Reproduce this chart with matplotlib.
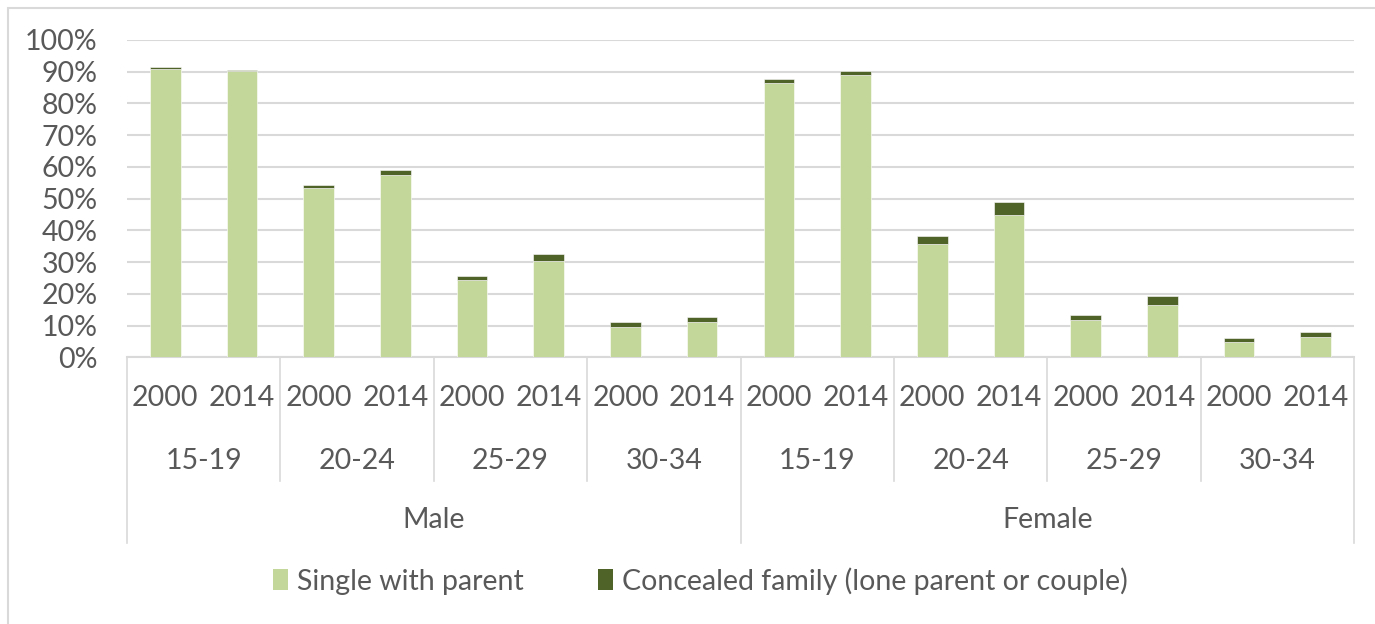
import matplotlib
matplotlib.use("Agg")
import matplotlib.pyplot as plt
from matplotlib.lines import Line2D
from matplotlib.patches import Rectangle, Patch
from matplotlib.ticker import PercentFormatter

plt.rcParams['font.family'] = ['Lato', 'DejaVu Sans']

sexes = ['Male', 'Female']
ages = ['15-19', '20-24', '25-29', '30-34']
years = ['2000', '2014']

# shares in percent, ordered age group by age group, 2000 then 2014
single_male = [91.0, 90.2, 53.4, 57.3, 24.3, 30.3, 9.7, 11.2]
concealed_male = [0.4, 0.4, 0.8, 1.7, 1.3, 2.2, 1.3, 1.4]
single_female = [86.5, 89.0, 35.6, 44.9, 11.7, 16.6, 4.8, 6.5]
concealed_female = [1.3, 1.2, 2.6, 4.1, 1.6, 2.7, 1.3, 1.6]

light = '#C4D79B'
dark = '#4F6228'
grid = '#D9D9D9'
txt = '#595959'
fs = 20.5

single = single_male + single_female
concealed = concealed_male + concealed_female
n = len(single)
xs = [i + 0.5 for i in range(n)]

W, H = 1375, 624
fig = plt.figure(figsize=(W / 100, H / 100), dpi=100)
ax = fig.add_axes([127 / W, 1 - 357.3 / H, (1354 - 127) / W, (357.3 - 40) / H])

ax.bar(xs, single, width=0.4, color=light, edgecolor='white', linewidth=0.4,
       label='Single with parent', zorder=3)
ax.bar(xs, concealed, width=0.4, bottom=single, color=dark, edgecolor='white',
       linewidth=0.4, label='Concealed family (lone parent or couple)', zorder=3)

ax.set_xlim(0, n)
ax.set_ylim(0, 100)
ax.set_yticks(range(0, 101, 10))
ax.yaxis.set_major_formatter(PercentFormatter(decimals=0))
ax.grid(axis='y', color=grid, linewidth=1.5, zorder=0)
ax.tick_params(axis='y', length=0, pad=21, labelsize=fs, labelcolor=txt)
ax.set_xticks([])
for s in ['top', 'right', 'left']:
    ax.spines[s].set_visible(False)
ax.spines['bottom'].set_color(grid)
ax.spines['bottom'].set_linewidth(1.5)

# three-level category axis drawn below the plot
tr = ax.get_xaxis_transform()
px = 1 / (357.3 - 40)
for i, x in enumerate(xs):
    ax.text(x, -(398 - 357.3) * px, years[i % 2], transform=tr, ha='center',
            va='center', fontsize=fs, color=txt)
for j in range(len(sexes) * len(ages)):
    ax.text(2 * j + 1, -(461 - 357.3) * px, ages[j % len(ages)], transform=tr,
            ha='center', va='center', fontsize=fs, color=txt)
for k, sex in enumerate(sexes):
    ax.text(8 * k + 4, -(520 - 357.3) * px, sex, transform=tr, ha='center',
            va='center', fontsize=fs, color=txt)
for b in range(0, n + 1, 2):
    bottom = 543 if b % 8 == 0 else 481
    ax.add_line(Line2D([b, b], [0, -(bottom - 357.3) * px], transform=tr,
                       color=grid, linewidth=1.2, clip_on=False))

handles = [Patch(facecolor=light), Patch(facecolor=dark)]
fig.legend(handles, ['Single with parent', 'Concealed family (lone parent or couple)'],
           loc='center', bbox_to_anchor=(700 / W, 1 - 581 / H), ncol=2,
           frameon=False, fontsize=fs, labelcolor=txt, handlelength=0.55,
           handleheight=0.75, handletextpad=0.3, columnspacing=2.6)

# chart area outline
fig.patches.append(Rectangle((7.5 / W, -0.1), 1.2, 1.1 - 8 / H,
                             transform=fig.transFigure, fill=False,
                             edgecolor=grid, linewidth=1.5))

fig.savefig('out.png', dpi=100)
